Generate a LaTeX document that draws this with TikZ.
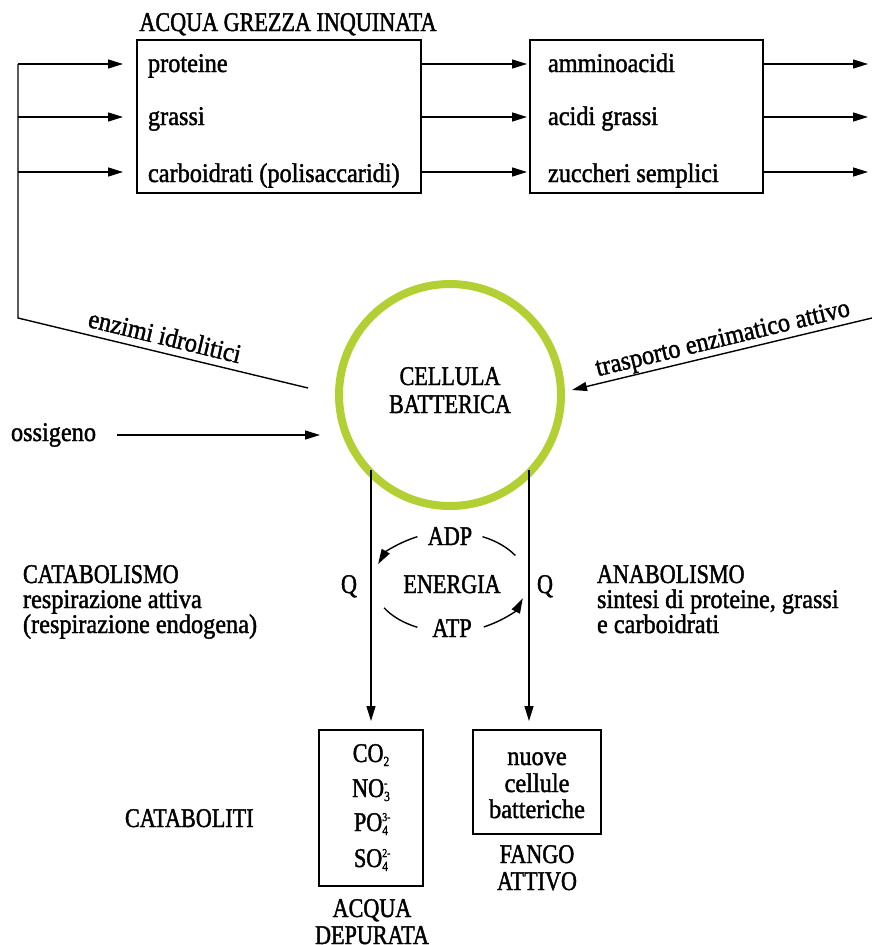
\documentclass[tikz,border=0pt]{standalone}
\usepackage{fontspec}
\setmainfont[FakeStretch=0.82, FakeBold=1.5]{Liberation Serif}
\newfontfamily\lowfont[FakeStretch=0.9, FakeBold=1.5]{Liberation Serif}
\usetikzlibrary{arrows.meta,calc}
\definecolor{cellgreen}{RGB}{178,208,52}
\newcommand\lbl{\fontsize{27}{28}\selectfont}
\newcommand\subidx{\fontsize{14}{14}\selectfont}
\newcommand\supidx{\fontsize{12}{12}\selectfont}
% formula with stacked subscript (#2) and superscript (#3)
\newcommand\ion[3]{#1\rlap{\raisebox{10pt}{\supidx #3}}\raisebox{-4pt}{\subidx #2}}

\begin{document}
\begin{tikzpicture}[x=1pt,y=-1pt,
  every node/.style={inner sep=0pt, outer sep=0pt, font=\lbl},
  txt/.style={anchor=base west},
  ctxt/.style={anchor=base},
  low/.style={font=\lbl\lowfont},
  box/.style={draw, line width=2pt, anchor=north west},
  conn/.style={line width=1.4pt},
  arr/.style={conn, -{Triangle[length=15pt,width=9pt]}}]
\useasboundingbox (0,0) rectangle (872,945);

% ---- raw sewage and hydrolysis products
\node[ctxt] (title) at (288,31) {ACQUA GREZZA INQUINATA};
\node[box, minimum width=284pt, minimum height=153pt] (raw) at (137,40) {};
\node[box, minimum width=233pt, minimum height=153pt] (conv) at (530,40) {};
\node[txt, low] (prot) at (148,72) {proteine};
\node[txt, low] (fat) at (148,125) {grassi};
\node[txt, low] (carb) at (148,182) {carboidrati (polisaccaridi)};
\node[txt, low] (amino) at (548,72) {amminoacidi};
\node[txt, low] (fatac) at (548,125) {acidi grassi};
\node[txt, low] (sugar) at (548,182) {zuccheri semplici};

\coordinate (r1) at (0,64);
\coordinate (r2) at (0,117);
\coordinate (r3) at (0,172);
\coordinate (trunk) at (18,64);
\coordinate (elbow) at (18,318);
\coordinate (enzend) at (308,388);

% ---- enzymes line feeding the three inputs
\draw[conn] (trunk) -- (elbow) -- (enzend);
\foreach \r in {r1,r2,r3}{
  \draw[arr, shorten >=14pt] (trunk |- \r) -- (raw.west |- \r);
  \draw[arr, shorten >=3pt] (raw.east |- \r) -- (conv.west |- \r);
  \draw[arr] (conv.east |- \r) -- (868,0 |- \r);
}
\node[low, rotate=-13.6] (enz) at (165,336) {enzimi idrolitici};

% ---- bacterial cell
\node[circle, draw=cellgreen, line width=8pt, minimum size=222pt] (cell) at (450,395) {};
\node[ctxt] (cell1) at (450,385) {CELLULA};
\node[ctxt] (cell2) at (450,413) {BATTERICA};

\coordinate (tsstart) at (872,318);
\coordinate (tsend) at (572,390);
\draw[arr] (tsstart) -- (tsend);
\node[low, rotate=13.5] (trasp) at (723,340) {trasporto enzimatico attivo};

\node[txt, low] (oss) at (11,441) {ossigeno};
\coordinate (oxs) at (117,435);
\coordinate (oxe) at (320,435);
\draw[arr] (oxs) -- (oxe);

% ---- catabolism / anabolism branches
\coordinate (cat0) at (371,470);
\coordinate (ana0) at (529,470);
\node[box, minimum width=104pt, minimum height=156pt] (outw) at (319,730) {};
\node[box, minimum width=128pt, minimum height=104pt] (sludge) at (473,730) {};
\draw[arr, shorten >=9pt] (cat0) -- (outw.north -| cat0);
\draw[arr, shorten >=9pt] (ana0) -- (sludge.north -| ana0);

\node[ctxt] (q1) at (349,593) {Q};
\node[ctxt] (q2) at (545,593) {Q};

\node[ctxt] (adp) at (450,545) {ADP};
\node[ctxt] (energia) at (452,593) {ENERGIA};
\node[ctxt] (atp) at (452,637) {ATP};
\coordinate (E) at (450,582);
\draw[arr] ($(E)+(245:77 and 50)$) arc[start angle=245, end angle=201, x radius=77, y radius=50];
\draw[conn] ($(E)+(295:77 and 50)$) arc[start angle=295, end angle=328, x radius=77, y radius=50];
\draw[conn] ($(E)+(149:77 and 50)$) arc[start angle=149, end angle=115, x radius=77, y radius=50];
\draw[arr] ($(E)+(64:77 and 50)$) arc[start angle=64, end angle=19, x radius=77, y radius=50];

\node[txt] (cata1) at (23,583) {CATABOLISMO};
\node[txt, low] (cata2) at (23,608) {respirazione attiva};
\node[txt, low] (cata3) at (23,633) {(respirazione endogena)};
\node[txt] (ana1) at (597,583) {ANABOLISMO};
\node[txt, low] (ana2) at (597,608) {sintesi di proteine, grassi};
\node[txt, low] (ana3) at (597,633) {e carboidrati};

% ---- end products
\node[txt] (catab) at (125,827) {CATABOLITI};
\node[ctxt] (co2) at (371,762) {\ion{CO}{2}{}};
\node[ctxt] (no3) at (371,797) {\ion{NO}{3}{-}};
\node[ctxt] (po4) at (371,831) {\ion{PO}{4}{3-}};
\node[ctxt] (so4) at (371,867) {\ion{SO}{4}{2-}};
\node[ctxt] (dep1) at (372,917) {ACQUA};
\node[ctxt] (dep2) at (372,944) {DEPURATA};

\node[ctxt, low] (nc1) at (537,765) {nuove};
\node[ctxt, low] (nc2) at (537,792) {cellule};
\node[ctxt, low] (nc3) at (537,818) {batteriche};
\node[ctxt] (fa1) at (537,863) {FANGO};
\node[ctxt] (fa2) at (537,890) {ATTIVO};
\end{tikzpicture}
\end{document}
